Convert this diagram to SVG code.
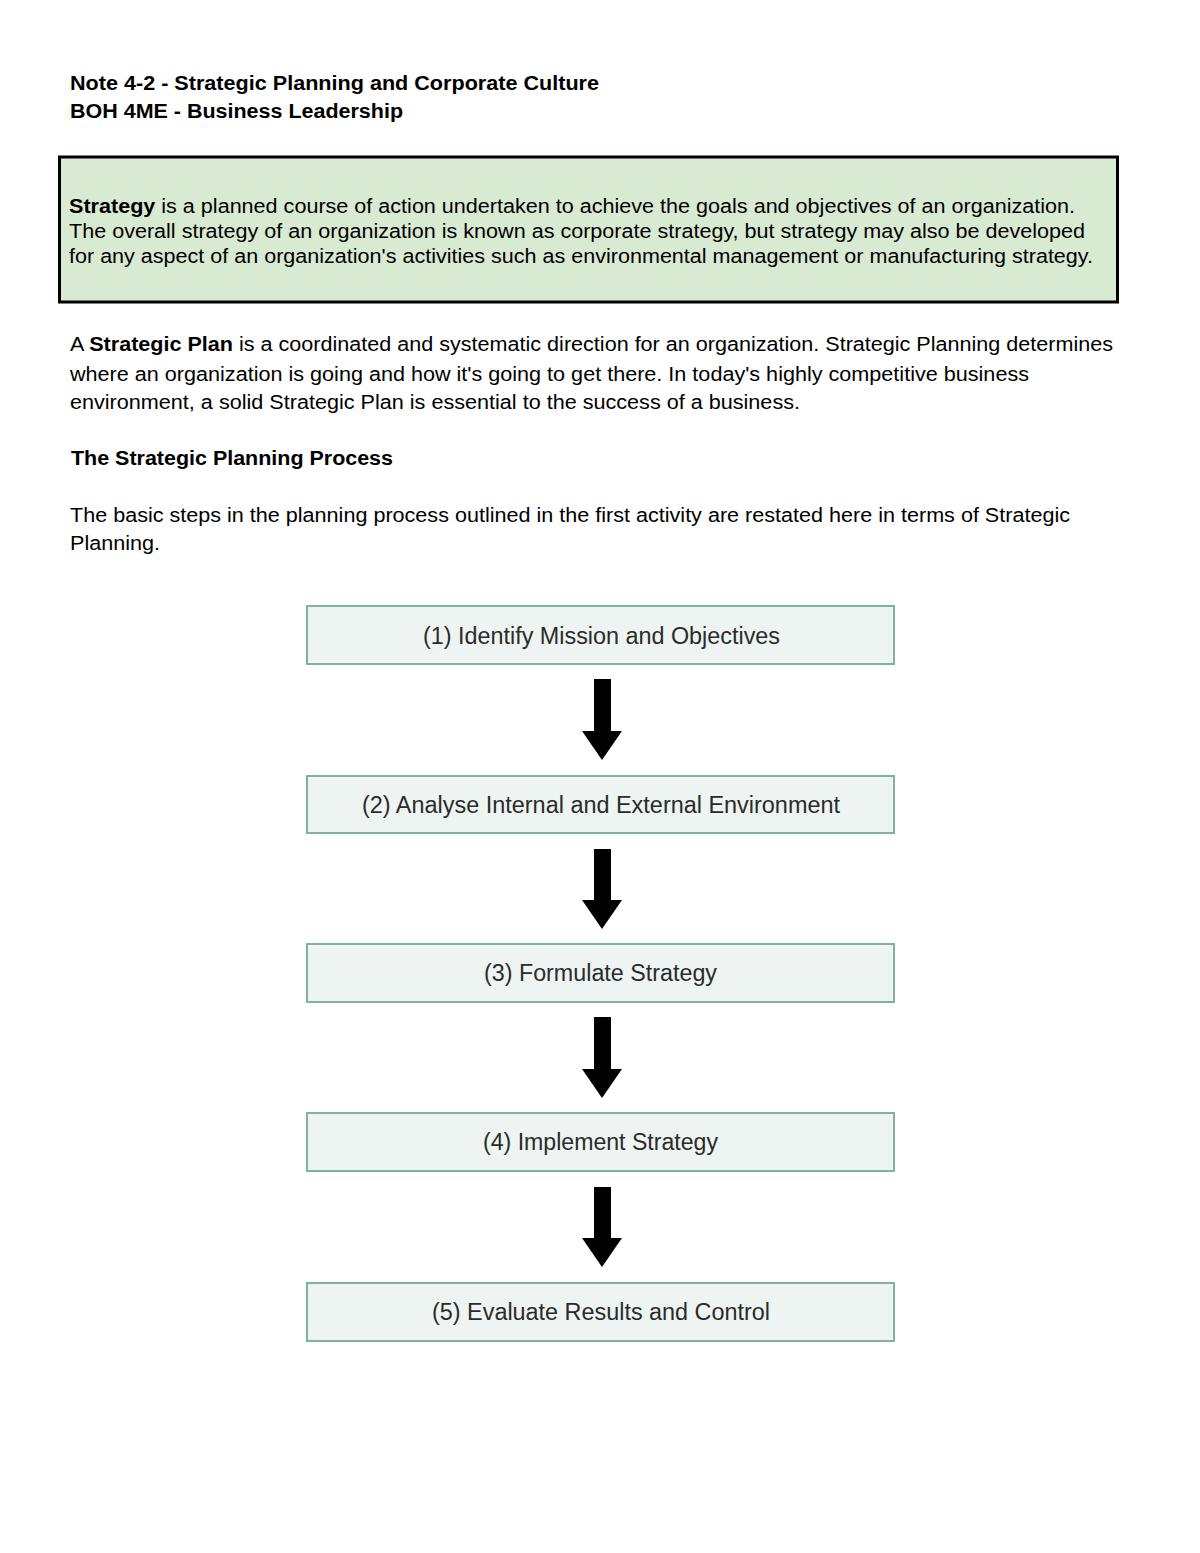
<svg xmlns="http://www.w3.org/2000/svg" width="1200" height="1553" viewBox="0 0 1200 1553">
<style>
.t{font-family:"Liberation Sans",Arial,sans-serif;font-size:20px;fill:#000}
.b{font-weight:bold}
.step{fill:#eef4f1;stroke:#7fb39a;stroke-width:2}
.st{font-family:"Liberation Sans",Arial,sans-serif;font-size:23px;fill:#2b2b2b;text-anchor:middle}
.arr{fill:#000}
</style>
<rect width="1200" height="1553" fill="#fff"/>
<g id="header">
<text class="t b" x="70" y="90" textLength="529" lengthAdjust="spacingAndGlyphs">Note 4-2 - Strategic Planning and Corporate Culture</text>
<text class="t b" x="70" y="118" textLength="333" lengthAdjust="spacingAndGlyphs">BOH 4ME - Business Leadership</text>
</g>
<g id="definition">
<rect x="59.500" y="157" width="1058" height="145" fill="#d9ead3" stroke="#000" stroke-width="3"/>
<text class="t" x="69" y="213" textLength="1006" lengthAdjust="spacingAndGlyphs"><tspan class="b">Strategy</tspan> is a planned course of action undertaken to achieve the goals and objectives of an organization.</text>
<text class="t" x="69" y="238" textLength="1016" lengthAdjust="spacingAndGlyphs">The overall strategy of an organization is known as corporate strategy, but strategy may also be developed</text>
<text class="t" x="69" y="263" textLength="1024" lengthAdjust="spacingAndGlyphs">for any aspect of an organization's activities such as environmental management or manufacturing strategy.</text>
</g>
<g id="paragraph">
<text class="t" x="70" y="351" textLength="1043" lengthAdjust="spacingAndGlyphs">A <tspan class="b">Strategic Plan</tspan> is a coordinated and systematic direction for an organization. Strategic Planning determines</text>
<text class="t" x="70" y="381" textLength="959" lengthAdjust="spacingAndGlyphs">where an organization is going and how it's going to get there. In today's highly competitive business</text>
<text class="t" x="70" y="409" textLength="730" lengthAdjust="spacingAndGlyphs">environment, a solid Strategic Plan is essential to the success of a business.</text>
<text class="t b" x="71" y="465" textLength="322" lengthAdjust="spacingAndGlyphs">The Strategic Planning Process</text>
<text class="t" x="70" y="522" textLength="1000" lengthAdjust="spacingAndGlyphs">The basic steps in the planning process outlined in the first activity are restated here in terms of Strategic</text>
<text class="t" x="70" y="550" textLength="90" lengthAdjust="spacingAndGlyphs">Planning.</text>
</g>
<g id="step1"><rect class="step" x="307" y="606" width="587" height="58"/><text class="st" x="601.500" y="644" textLength="357" lengthAdjust="spacingAndGlyphs">(1) Identify Mission and Objectives</text></g>
<g id="step2"><rect class="step" x="307" y="776" width="587" height="57"/><text class="st" x="601" y="813" textLength="478" lengthAdjust="spacingAndGlyphs">(2) Analyse Internal and External Environment</text></g>
<g id="step3"><rect class="step" x="307" y="944" width="587" height="58"/><text class="st" x="600.500" y="981" textLength="233" lengthAdjust="spacingAndGlyphs">(3) Formulate Strategy</text></g>
<g id="step4"><rect class="step" x="307" y="1113" width="587" height="58"/><text class="st" x="600.500" y="1150" textLength="235" lengthAdjust="spacingAndGlyphs">(4) Implement Strategy</text></g>
<g id="step5"><rect class="step" x="307" y="1283" width="587" height="58"/><text class="st" x="601" y="1320" textLength="338" lengthAdjust="spacingAndGlyphs">(5) Evaluate Results and Control</text></g>
<g id="connectors">
<polygon class="arr" points="594,679 611,679 611,731 622,731 602,760 582,731 594,731"/>
<polygon class="arr" points="594,849 611,849 611,900 622,900 602,929 582,900 594,900"/>
<polygon class="arr" points="594,1017 611,1017 611,1069 622,1069 602,1098 582,1069 594,1069"/>
<polygon class="arr" points="594,1187 611,1187 611,1238 622,1238 602,1267 582,1238 594,1238"/>
</g>
</svg>
